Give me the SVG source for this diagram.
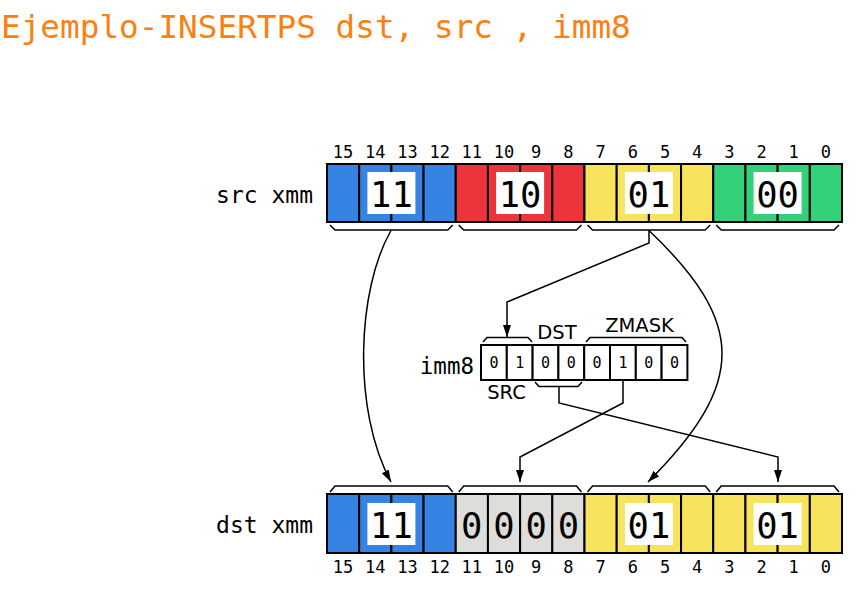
<svg xmlns="http://www.w3.org/2000/svg" width="868" height="592" viewBox="0 0 868 592">
<style>
.mono{font-family:"DejaVu Sans Mono","Liberation Mono",monospace;fill:#000}
.sans{font-family:"DejaVu Sans","Liberation Sans",sans-serif;fill:#000}
.idx{font-size:17px;text-anchor:middle}
.big{font-size:35.5px;text-anchor:middle}
.c{stroke:#000;stroke-width:2}
.blue{fill:#3584e4}.red{fill:#ed333b}.yel{fill:#f8e45c}.grn{fill:#33d17a}.gry{fill:#deddda}.wht{fill:#fff}
.br{fill:none;stroke:#000;stroke-width:1.5}
.ln{fill:none;stroke:#000;stroke-width:1.5}
</style>
<defs>
<marker id="ah" markerUnits="userSpaceOnUse" markerWidth="13" markerHeight="9" refX="12" refY="4" orient="auto">
<path d="M0,0 L12,4 L0,8 z" fill="#000"/>
</marker>
</defs>
<rect width="868" height="592" fill="#fff"/>
<text x="1" y="38" style="font-family:'DejaVu Sans Mono','Liberation Mono',monospace;font-size:32.7px;fill:#fb8012">Ejemplo-INSERTPS dst, src , imm8</text>

<g id="src">
<text class="mono" x="313" y="203" font-size="23" text-anchor="end">src xmm</text>
<g class="c">
<rect class="blue" x="327" y="164" width="32.19" height="58"/>
<rect class="blue" x="359.19" y="164" width="32.19" height="58"/>
<rect class="blue" x="391.38" y="164" width="32.19" height="58"/>
<rect class="blue" x="423.56" y="164" width="32.19" height="58"/>
<rect class="red" x="455.75" y="164" width="32.19" height="58"/>
<rect class="red" x="487.94" y="164" width="32.19" height="58"/>
<rect class="red" x="520.13" y="164" width="32.19" height="58"/>
<rect class="red" x="552.31" y="164" width="32.19" height="58"/>
<rect class="yel" x="584.5" y="164" width="32.19" height="58"/>
<rect class="yel" x="616.69" y="164" width="32.19" height="58"/>
<rect class="yel" x="648.88" y="164" width="32.19" height="58"/>
<rect class="yel" x="681.06" y="164" width="32.19" height="58"/>
<rect class="grn" x="713.25" y="164" width="32.19" height="58"/>
<rect class="grn" x="745.44" y="164" width="32.19" height="58"/>
<rect class="grn" x="777.63" y="164" width="32.19" height="58"/>
<rect class="grn" x="809.81" y="164" width="32.19" height="58"/>
</g>
<rect class="wht" x="367.4" y="172" width="48" height="42"/>
<rect class="wht" x="496.1" y="172" width="48" height="42"/>
<rect class="wht" x="624.9" y="172" width="48" height="42"/>
<rect class="wht" x="753.6" y="172" width="48" height="42"/>
<text class="mono big" x="391.4" y="206.5">11</text>
<text class="mono big" x="520.1" y="206.5">10</text>
<text class="mono big" x="648.9" y="206.5">01</text>
<text class="mono big" x="777.6" y="206.5">00</text>
<g class="mono idx">
<text x="343.1" y="158">15</text><text x="375.3" y="158">14</text><text x="407.5" y="158">13</text><text x="439.7" y="158">12</text>
<text x="471.8" y="158">11</text><text x="504" y="158">10</text><text x="536.2" y="158">9</text><text x="568.4" y="158">8</text>
<text x="600.6" y="158">7</text><text x="632.8" y="158">6</text><text x="665" y="158">5</text><text x="697.2" y="158">4</text>
<text x="729.3" y="158">3</text><text x="761.5" y="158">2</text><text x="793.7" y="158">1</text><text x="825.9" y="158">0</text>
</g>
<path class="br" d="M330,225 L335,230 H447.75 L452.75,225"/>
<path class="br" d="M458.75,225 L463.75,230 H576.5 L581.5,225"/>
<path class="br" d="M587.5,225 L592.5,230 H705.25 L710.25,225"/>
<path class="br" d="M716.25,225 L721.25,230 H834 L839,225"/>
</g>

<g id="imm8">
<text class="mono" x="474" y="374" font-size="22.5" text-anchor="end">imm8</text>
<g class="c" fill="#fff">
<rect x="481" y="345" width="25.8" height="35"/>
<rect x="506.8" y="345" width="25.8" height="35"/>
<rect x="532.6" y="345" width="25.8" height="35"/>
<rect x="558.4" y="345" width="25.8" height="35"/>
<rect x="584.2" y="345" width="25.8" height="35"/>
<rect x="610" y="345" width="25.8" height="35"/>
<rect x="635.8" y="345" width="25.8" height="35"/>
<rect x="661.6" y="345" width="25.8" height="35"/>
</g>
<g class="mono" font-size="15" text-anchor="middle">
<text x="493.9" y="368">0</text><text x="519.7" y="368">1</text><text x="545.5" y="368">0</text><text x="571.3" y="368">0</text>
<text x="597.1" y="368">0</text><text x="622.9" y="368">1</text><text x="648.7" y="368">0</text><text x="674.5" y="368">0</text>
</g>
<path class="br" d="M483,342 L487,337.5 H528 L532,342"/>
<path class="br" d="M586,342 L590,337.5 H682 L686,342"/>
<path class="br" d="M535,382 L539,386.5 H578 L582,382"/>
<text class="sans" x="557" y="339" font-size="19.5" text-anchor="middle">DST</text>
<text class="sans" x="639.5" y="332" font-size="19.5" text-anchor="middle">ZMASK</text>
<text class="sans" x="506.5" y="399" font-size="19.5" text-anchor="middle">SRC</text>
</g>

<g id="dst">
<text class="mono" x="313" y="533" font-size="23" text-anchor="end">dst xmm</text>
<g class="c">
<rect class="blue" x="327" y="494" width="32.19" height="59"/>
<rect class="blue" x="359.19" y="494" width="32.19" height="59"/>
<rect class="blue" x="391.38" y="494" width="32.19" height="59"/>
<rect class="blue" x="423.56" y="494" width="32.19" height="59"/>
<rect class="gry" x="455.75" y="494" width="32.19" height="59"/>
<rect class="gry" x="487.94" y="494" width="32.19" height="59"/>
<rect class="gry" x="520.13" y="494" width="32.19" height="59"/>
<rect class="gry" x="552.31" y="494" width="32.19" height="59"/>
<rect class="yel" x="584.5" y="494" width="32.19" height="59"/>
<rect class="yel" x="616.69" y="494" width="32.19" height="59"/>
<rect class="yel" x="648.88" y="494" width="32.19" height="59"/>
<rect class="yel" x="681.06" y="494" width="32.19" height="59"/>
<rect class="yel" x="713.25" y="494" width="32.19" height="59"/>
<rect class="yel" x="745.44" y="494" width="32.19" height="59"/>
<rect class="yel" x="777.63" y="494" width="32.19" height="59"/>
<rect class="yel" x="809.81" y="494" width="32.19" height="59"/>
</g>
<rect class="wht" x="367.4" y="503" width="48" height="42"/>
<rect class="wht" x="624.9" y="503" width="48" height="42"/>
<rect class="wht" x="753.6" y="503" width="48" height="42"/>
<text class="mono big" x="391.4" y="537.5">11</text>
<text class="mono big" x="471.8" y="537.5">0</text>
<text class="mono big" x="504" y="537.5">0</text>
<text class="mono big" x="536.2" y="537.5">0</text>
<text class="mono big" x="568.4" y="537.5">0</text>
<text class="mono big" x="648.9" y="537.5">01</text>
<text class="mono big" x="777.6" y="537.5">01</text>
<g class="mono idx">
<text x="343.1" y="573">15</text><text x="375.3" y="573">14</text><text x="407.5" y="573">13</text><text x="439.7" y="573">12</text>
<text x="471.8" y="573">11</text><text x="504" y="573">10</text><text x="536.2" y="573">9</text><text x="568.4" y="573">8</text>
<text x="600.6" y="573">7</text><text x="632.8" y="573">6</text><text x="665" y="573">5</text><text x="697.2" y="573">4</text>
<text x="729.3" y="573">3</text><text x="761.5" y="573">2</text><text x="793.7" y="573">1</text><text x="825.9" y="573">0</text>
</g>
<path class="br" d="M330,492 L335,486 H447.75 L452.75,492"/>
<path class="br" d="M458.75,492 L463.75,486 H576.5 L581.5,492"/>
<path class="br" d="M587.5,492 L592.5,486 H705.25 L710.25,492"/>
<path class="br" d="M716.25,492 L721.25,486 H834 L839,492"/>
</g>

<g id="connectors">
<path class="ln" d="M391,230.5 C357,290 352,410 391,482" marker-end="url(#ah)"/>
<path class="ln" d="M649,230.5 C745,322 748,382 648,482" marker-end="url(#ah)"/>
<path class="ln" d="M649,230.5 V243 L507,302 V337" marker-end="url(#ah)"/>
<path class="ln" d="M623,380 V403 L520,457 V482" marker-end="url(#ah)"/>
<path class="ln" d="M559,386.5 V403 L778,457 V482" marker-end="url(#ah)"/>
</g>
</svg>
